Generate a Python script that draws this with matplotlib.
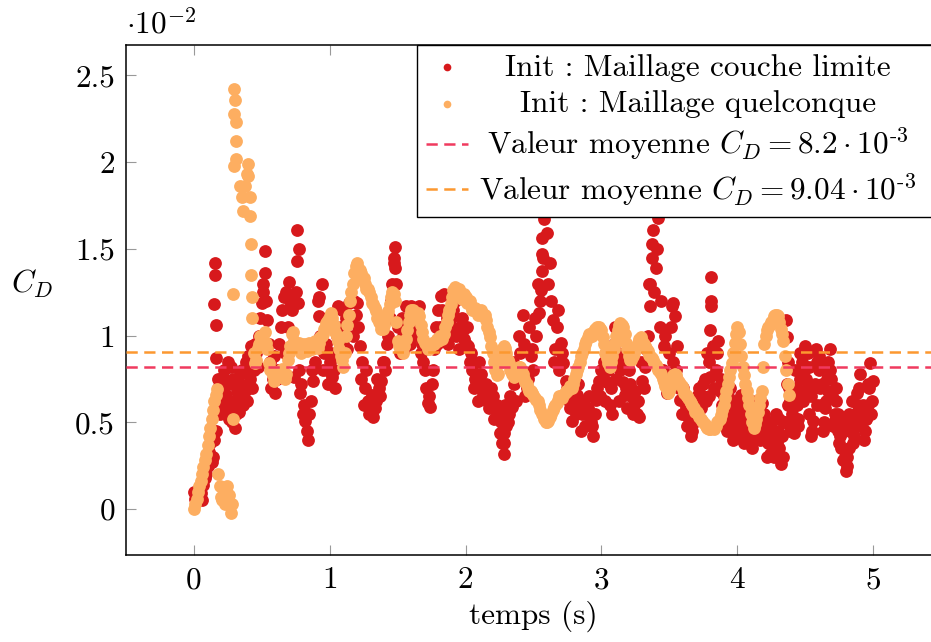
import numpy as np
import matplotlib
matplotlib.use("Agg")
import matplotlib.pyplot as plt

plt.rcParams['font.family'] = 'serif'
plt.rcParams['font.serif'] = ['cmr10', 'DejaVu Serif']
plt.rcParams['mathtext.fontset'] = 'cm'
plt.rcParams['axes.unicode_minus'] = False
plt.rcParams['axes.formatter.use_mathtext'] = True

# C_D values are in units of 1e-2
# --- maillage couche limite (red), sampled every 0.02 s from 0 to 5 s
red_v = [
    0.10, 0.08, 0.12, 0.05, 0.18, 0.25, 0.38, 0.30, 0.45, 0.75,
    0.62, 0.80, 0.55, 0.72, 0.50, 0.47, 0.68, 0.78, 0.60, 0.85,
    0.72, 0.94, 0.80, 0.90, 1.00, 1.19, 1.49, 1.09, 0.85, 0.75,
    0.67, 0.80, 1.05, 1.22, 1.25, 1.31, 1.15, 0.76, 1.61, 0.67,
    0.55, 0.51, 0.40, 0.62, 0.74, 0.95, 1.11, 1.30, 0.90, 0.80,
    0.85, 0.76, 0.70, 1.17, 1.05, 0.95, 1.10, 1.19, 1.08, 1.20,
    1.19, 0.94, 0.85, 0.70, 0.62, 0.59, 0.53, 0.62, 0.70, 0.74,
    0.85, 0.95, 1.10, 1.30, 1.51, 1.05, 0.90, 1.00, 1.17, 1.10,
    1.17, 1.05, 1.13, 1.17, 0.95, 0.80, 0.61, 0.59, 0.80, 1.05,
    1.15, 1.23, 1.24, 1.10, 1.00, 1.05, 1.20, 1.25, 1.05, 1.03,
    0.95, 0.94, 0.90, 0.70, 0.74, 0.85, 0.70, 0.63, 0.67, 0.60,
    0.65, 0.59, 0.55, 0.50, 0.32, 0.48, 0.55, 0.59, 0.72, 0.80,
    0.90, 1.12, 0.65, 0.75, 0.88, 0.80, 1.00, 1.13, 1.56, 1.67,
    1.59, 1.42, 1.09, 0.92, 1.15, 0.96, 0.84, 0.74, 0.62, 0.51,
    0.60, 0.66, 0.63, 0.55, 0.48, 0.58, 0.50, 0.42, 0.63, 0.74,
    0.80, 0.85, 0.73, 0.60, 0.55, 1.05, 0.90, 0.80, 0.73, 0.70,
    0.80, 0.65, 0.60, 0.55, 0.53, 0.74, 0.82, 1.00, 1.17, 1.61,
    1.39, 1.68, 1.20, 0.94, 0.67, 0.90, 1.17, 1.11, 0.94, 0.63,
    0.70, 0.59, 0.53, 0.42, 0.50, 0.60, 0.70, 0.65, 0.75, 0.90,
    1.03, 0.94, 0.80, 0.97, 0.75, 0.65, 0.55, 0.60, 0.50, 0.46,
    0.61, 0.50, 0.45, 0.55, 0.48, 0.42, 0.40, 0.45, 0.50, 0.61,
    0.55, 0.30, 0.32, 0.40, 0.35, 0.45, 0.26, 0.30, 1.09, 0.70,
    0.55, 0.44, 0.60, 0.75, 0.85, 0.94, 0.90, 0.65, 0.51, 0.92,
    0.80, 0.60, 0.50, 0.75, 0.92, 0.65, 0.55, 0.45, 0.42, 0.28,
    0.22, 0.35, 0.50, 0.42, 0.67, 0.70, 0.55, 0.45, 0.60, 0.84,
    0.74,
]
red_t = np.linspace(0, 5, len(red_v))

# red, in-between samples (0.01 s to 4.99 s)
red_v_b = [
    0.06, 0.11, 0.09, 0.14, 0.20, 0.33, 0.27, 0.40, 0.60, 0.55,
    0.70, 0.65, 0.85, 0.60, 0.75, 0.55, 0.72, 0.65, 0.80, 0.62,
    0.85, 0.70, 0.95, 0.82, 1.10, 1.30, 1.20, 0.95, 0.70, 0.88,
    0.75, 0.95, 1.15, 0.90, 1.05, 1.20, 0.95, 1.25, 0.80, 0.72,
    0.60, 0.45, 0.55, 0.80, 0.85, 1.20, 1.00, 0.80, 0.95, 0.72,
    0.90, 0.80, 1.00, 0.88, 1.15, 1.05, 0.92, 1.10, 1.00, 1.12,
    1.05, 0.75, 0.60, 0.80, 0.55, 0.66, 0.58, 0.75, 0.65, 0.85,
    0.80, 1.00, 1.20, 1.42, 1.30, 0.95, 1.10, 0.92, 1.02, 0.95,
    1.10, 1.00, 1.08, 0.90, 0.85, 0.70, 0.65, 0.72, 0.92, 0.95,
    1.05, 1.15, 1.00, 0.95, 1.10, 1.15, 1.00, 0.92, 1.10, 0.98,
    1.05, 0.85, 0.80, 0.75, 0.62, 0.78, 0.66, 0.72, 0.58, 0.70,
    0.52, 0.60, 0.44, 0.38, 0.60, 0.50, 0.65, 0.85, 0.62, 1.00,
    0.80, 0.95, 0.70, 1.05, 0.92, 1.10, 1.30, 1.20, 1.45, 1.75,
    1.30, 1.20, 0.85, 1.05, 0.80, 0.90, 0.65, 0.70, 0.58, 0.68,
    0.55, 0.72, 0.45, 0.60, 0.55, 0.65, 0.48, 0.55, 0.70, 0.65,
    0.75, 0.62, 0.80, 0.70, 0.95, 0.75, 0.62, 0.85, 0.66, 0.58,
    0.72, 0.55, 0.68, 0.62, 0.85, 0.70, 0.92, 1.30, 1.45, 1.25,
    1.50, 1.05, 0.80, 1.00, 0.75, 1.05, 0.85, 0.80, 0.70, 0.55,
    0.65, 0.48, 0.58, 0.45, 0.55, 0.66, 0.58, 0.72, 0.62, 0.85,
    1.20, 0.70, 0.90, 0.68, 0.60, 0.48, 0.65, 0.52, 0.40, 0.55,
    0.42, 0.58, 0.38, 0.50, 0.55, 0.35, 0.52, 0.48, 0.40, 0.55,
    0.45, 0.38, 0.50, 0.30, 0.38, 0.52, 0.42, 0.50, 0.85, 0.62,
    0.50, 0.70, 0.48, 0.65, 0.80, 0.70, 0.55, 0.45, 0.72, 0.85,
    0.70, 0.45, 0.62, 0.85, 0.75, 0.50, 0.62, 0.38, 0.50, 0.30,
    0.25, 0.45, 0.38, 0.55, 0.60, 0.50, 0.40, 0.52, 0.70, 0.62,
]
red_t_b = np.linspace(0.01, 4.99, len(red_v_b))

# red, extra samples in the dense parts (0.175-0.455 s and 3.905-4.985 s)
red_v_c1 = [0.70, 0.58, 0.76, 0.66, 0.52, 0.82, 0.62, 0.74, 0.56, 0.80,
            0.68, 0.88, 0.75, 0.92, 0.83]
red_t_c1 = np.linspace(0.175, 0.455, len(red_v_c1))
red_v_c2 = [
    0.58, 0.45, 0.70, 0.55, 0.62, 0.50, 0.66, 0.40, 0.60, 0.45,
    0.62, 0.50, 0.58, 0.42, 0.48, 0.40, 0.50, 0.45, 0.33, 0.55,
    0.35, 0.42, 0.50, 0.72, 0.45, 0.62, 0.80, 0.52, 0.90, 0.62,
    0.75, 0.82, 0.42, 0.70, 0.60, 0.88, 0.72, 0.58, 0.68, 0.80,
    0.48, 0.70, 0.55, 0.35, 0.45, 0.30, 0.55, 0.62, 0.55, 0.48,
    0.78, 0.60, 0.52, 0.72, 0.55,
]
red_t_c2 = np.linspace(3.905, 4.985, len(red_v_c2))

# isolated red points (fast jumps)
red_extra_t = [0.152, 0.155, 0.149, 0.160, 0.165, 0.52, 0.51, 0.76, 0.765, 0.775,
               0.92, 1.48, 1.475, 2.28, 2.285, 2.555, 2.56, 2.565, 2.575, 2.59,
               3.355, 3.37, 3.41, 3.43, 3.53, 3.805, 3.81, 3.80, 3.795,
               4.365, 4.37, 4.375]
red_extra_v = [1.42, 1.35, 1.18, 1.06, 0.87, 1.36, 1.25, 1.43, 1.19, 1.50,
               1.22, 1.39, 1.45, 0.44, 0.38, 1.26, 1.37, 1.47, 1.75, 1.85,
               1.30, 1.53, 1.75, 1.85, 1.19, 1.17, 1.34, 0.76, 0.65,
               0.99, 0.82, 0.60]

# --- maillage quelconque (orange), start-up and spike
orange_start_t = [0.00, 0.01, 0.02, 0.03, 0.04, 0.05, 0.06, 0.07, 0.08, 0.09,
                  0.10, 0.11, 0.12, 0.13, 0.14, 0.15, 0.16, 0.17, 0.18, 0.19,
                  0.20, 0.21, 0.22, 0.23, 0.24, 0.25, 0.26, 0.27, 0.28, 0.285,
                  0.288, 0.293, 0.297, 0.300, 0.297, 0.309, 0.311, 0.313, 0.339, 0.351,
                  0.363, 0.376, 0.388, 0.395, 0.400, 0.412, 0.412, 0.417, 0.419, 0.425,
                  0.428]
orange_start_v = [0.00, 0.03, 0.06, 0.10, 0.13, 0.16, 0.20, 0.24, 0.28, 0.32,
                  0.37, 0.42, 0.47, 0.52, 0.57, 0.62, 0.66, 0.69, 0.20, 0.13,
                  0.07, 0.05, 0.10, 0.03, 0.13, 0.04, 0.08, -0.02, 0.03, 0.52,
                  1.24, 1.98, 2.42, 2.36, 2.28, 2.23, 2.12, 2.02, 1.86, 1.80,
                  1.72, 1.86, 1.93, 1.99, 1.92, 1.80, 1.69, 1.53, 1.35, 1.22,
                  1.10]

# orange, sampled every 0.02 s from 0.44 to 4.38 s
orange_v = [
    0.90, 0.86, 0.95, 1.00, 1.02, 0.92, 0.80, 0.77, 0.76, 0.78,
    0.80, 0.77, 0.78, 0.90, 1.01, 0.97, 0.95, 0.93, 0.92, 0.94,
    0.93, 0.94, 0.95, 0.94, 0.96, 1.00, 1.04, 1.08, 1.11, 1.10,
    1.02, 0.97, 0.88, 0.82, 1.00, 1.12, 1.25, 1.36, 1.42, 1.38,
    1.33, 1.30, 1.27, 1.22, 1.18, 1.14, 1.08, 1.04, 1.06, 1.12,
    1.18, 1.25, 1.20, 0.97, 0.93, 0.90, 0.98, 1.08, 1.15, 1.13,
    1.11, 1.11, 1.02, 0.96, 0.92, 0.94, 0.95, 0.97, 0.97, 0.99,
    1.01, 1.08, 1.15, 1.22, 1.28, 1.26, 1.24, 1.22, 1.22, 1.20,
    1.17, 1.15, 1.14, 1.13, 1.13, 1.12, 1.05, 0.99, 0.90, 0.80,
    0.78, 0.88, 0.94, 0.90, 0.84, 0.78, 0.76, 0.80, 0.82, 0.78,
    0.73, 0.70, 0.68, 0.66, 0.63, 0.60, 0.55, 0.52, 0.50, 0.53,
    0.57, 0.60, 0.63, 0.65, 0.66, 0.68, 0.69, 0.70, 0.75, 0.80,
    0.85, 0.90, 0.95, 0.99, 1.00, 1.02, 1.04, 1.05, 1.03, 0.95,
    0.87, 0.82, 0.88, 0.96, 1.03, 1.07, 1.05, 0.96, 0.88, 0.86,
    0.90, 0.94, 0.98, 0.97, 0.94, 0.91, 0.88, 0.86, 0.83, 0.80,
    0.78, 0.73, 0.69, 0.68, 0.74, 0.78, 0.75, 0.72, 0.69, 0.66,
    0.64, 0.61, 0.58, 0.56, 0.53, 0.51, 0.49, 0.47, 0.46, 0.47,
    0.48, 0.51, 0.54, 0.60, 0.68, 0.76, 0.84, 0.96, 1.05, 0.95,
    0.82, 0.72, 0.64, 0.55, 0.47, 0.52, 0.60, 0.68, 0.95, 1.03,
    1.06, 1.09, 1.12, 1.11, 1.04, 0.97, 0.80, 0.66,
]
orange_t = np.linspace(0.44, 4.38, len(orange_v))

# orange, in-between samples (0.45 s to 4.37 s)
orange_v_b = [
    0.84, 0.93, 1.00, 0.98, 0.96, 0.84, 0.80, 0.74, 0.79, 0.76,
    0.81, 0.75, 0.86, 0.94, 1.02, 0.93, 0.96, 0.90, 0.95, 0.91,
    0.96, 0.92, 0.97, 0.93, 0.99, 1.01, 1.07, 1.09, 1.13, 1.06,
    1.00, 0.92, 0.86, 0.90, 1.06, 1.20, 1.30, 1.40, 1.39, 1.36,
    1.33, 1.27, 1.25, 1.19, 1.16, 1.10, 1.07, 1.04, 1.10, 1.14,
    1.22, 1.24, 1.08, 0.94, 0.92, 0.94, 1.03, 1.12, 1.15, 1.10,
    1.13, 1.06, 0.98, 0.95, 0.92, 0.96, 0.95, 0.98, 1.00, 0.98,
    1.05, 1.12, 1.18, 1.26, 1.25, 1.27, 1.21, 1.24, 1.19, 1.20,
    1.15, 1.16, 1.12, 1.15, 1.11, 1.09, 1.02, 0.94, 0.85, 0.77,
    0.84, 0.92, 0.93, 0.86, 0.80, 0.78, 0.77, 0.82, 0.80, 0.75,
    0.72, 0.68, 0.67, 0.64, 0.62, 0.57, 0.54, 0.50, 0.51, 0.55,
    0.59, 0.61, 0.65, 0.64, 0.67, 0.68, 0.71, 0.72, 0.78, 0.82,
    0.88, 0.92, 0.97, 1.01, 1.00, 1.04, 1.05, 1.04, 0.99, 0.90,
    0.84, 0.85, 0.92, 1.00, 1.06, 1.06, 1.01, 0.92, 0.86, 0.88,
    0.92, 0.96, 0.99, 0.95, 0.93, 0.89, 0.87, 0.84, 0.82, 0.79,
    0.75, 0.71, 0.67, 0.71, 0.77, 0.77, 0.73, 0.71, 0.67, 0.65,
    0.62, 0.60, 0.56, 0.55, 0.52, 0.50, 0.48, 0.46, 0.47, 0.46,
    0.50, 0.52, 0.57, 0.64, 0.72, 0.80, 0.90, 1.01, 1.02, 0.88,
    0.77, 0.68, 0.60, 0.50, 0.49, 0.56, 0.64, 0.82, 1.00, 1.05,
    1.08, 1.11, 1.12, 1.08, 1.01, 0.88, 0.72,
]
orange_t_b = np.linspace(0.45, 4.37, len(orange_v_b))

mean_red = 0.82
mean_orange = 0.904

labels = ['Init : Maillage couche limite',
          'Init : Maillage quelconque',
          r'Valeur moyenne $C_D = 8.2\cdot 10^{\text{-}3}$',
          r'Valeur moyenne $C_D = 9.04\cdot 10^{\text{-}3}$']

c_red = '#d7191c'
c_orange = '#fdae61'
c_red_line = '#f03a5f'
c_orange_line = '#fc9830'
fs = 22.5

fig = plt.figure(figsize=(9.31, 6.42), dpi=100)
ax = fig.add_axes([126/931, 87/642, 815/931, 510/642])

ax.scatter(np.concatenate([red_t, red_t_b, red_t_c1, red_t_c2, red_extra_t]),
           np.concatenate([red_v, red_v_b, red_v_c1, red_v_c2, red_extra_v]),
           s=85, color=c_red, linewidths=0, label=labels[0], zorder=2)
ax.scatter(np.concatenate([orange_start_t, orange_t, orange_t_b]),
           np.concatenate([orange_start_v, orange_v, orange_v_b]),
           s=85, color=c_orange, linewidths=0, label=labels[1], zorder=3)
ax.axhline(mean_red, color=c_red_line, lw=1.8, dashes=(4.5, 2.6), label=labels[2], zorder=4)
ax.axhline(mean_orange, color=c_orange_line, lw=1.8, dashes=(4.5, 2.6), label=labels[3], zorder=4)

ax.set_xlim(-0.5, 5.5)
ax.set_ylim(-0.265, 2.675)
ax.set_xticks([0, 1, 2, 3, 4, 5])
ax.set_xticklabels(['0', '1', '2', '3', '4', '5'])
ax.set_yticks([0, 0.5, 1, 1.5, 2, 2.5])
ax.set_yticklabels(['0', '0.5', '1', '1.5', '2', '2.5'])
ax.tick_params(direction='in', length=7.5, width=0.8, color='#999999',
               labelsize=fs, pad=8, top=True, right=True)
for sp in ax.spines.values():
    sp.set_linewidth(1.1)

ax.set_xlabel('temps (s)', fontsize=fs, labelpad=5)
ax.set_ylabel('$C_D$', fontsize=fs, rotation=0)
ax.yaxis.set_label_coords(-0.115, 0.5)
ax.text(0.0, 1.01, r'$\cdot 10^{-2}$', transform=ax.transAxes, fontsize=fs,
        ha='left', va='bottom')

leg = ax.legend(loc='upper right', borderaxespad=0, fontsize=fs, frameon=True,
                fancybox=False, edgecolor='black', framealpha=1,
                handlelength=1.35, markerscale=0.6, labelspacing=0.26,
                borderpad=0.28, handletextpad=0.85)
leg.get_frame().set_linewidth(1.0)

# center legend texts like pgfplots, keep them clear of the cropped right edge
fig.canvas.draw()
r = fig.canvas.get_renderer()
widths = [t.get_window_extent(r).width for t in leg.get_texts()]
wmax = max(widths)
shift = 16
for t, w in zip(leg.get_texts(), widths):
    t.set_x((wmax - w) / 2 - shift)

fig.savefig('out.png', dpi=100)
